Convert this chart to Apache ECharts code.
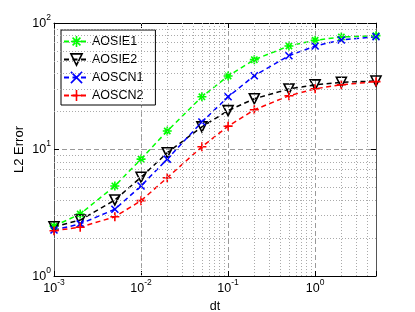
<!DOCTYPE html>
<html><head><meta charset="utf-8">
<script src="https://cdn.jsdelivr.net/npm/echarts@6/dist/echarts.min.js"></script>
<style>html,body{margin:0;padding:0;background:#fff}#c{width:415px;height:312px}</style>
</head><body><div id="c"></div>
<script>
const dt = [0.001, 0.002, 0.005, 0.01, 0.02, 0.05, 0.1, 0.2, 0.5, 1, 2, 5];
const AOSIE1 = [2.48, 3.09, 5.15, 8.4, 14.0, 26.1, 38.1, 51.3, 65.8, 73, 77.5, 79.4];
const AOSIE2 = [2.45, 2.77, 3.99, 6.03, 9.43, 15.1, 20.3, 25.2, 30.1, 32.4, 34.0, 34.8];
const AOSCN1 = [2.31, 2.58, 3.37, 5.15, 8.4, 16.5, 26.1, 38.3, 55.1, 65.8, 73.4, 78.0];
const AOSCN2 = [2.28, 2.43, 2.94, 3.94, 5.98, 10.5, 15.3, 20.6, 26.6, 30.2, 32.5, 34.4];
const seriesNames = ['AOSIE1', 'AOSIE2', 'AOSCN1', 'AOSCN2'];
const xMinor = [];
[0.001, 0.01, 0.1, 1].forEach(d => { for (let k = 2; k <= 9; k++) { const v = k * d; if (v < 5) xMinor.push(v); } });
const yMinor = [];
[1, 10].forEach(d => { for (let k = 2; k <= 9; k++) yMinor.push(k * d); });

const FONT = 'Liberation Sans';
function pow10Label(v) {
  const e = Math.log10(v);
  const r = Math.round(e);
  if (Math.abs(e - r) > 1e-6) return '';
  return '{b|10}{s|' + r + '}';
}
const rich = {
  b: { fontSize: 12.5, fontFamily: FONT, color: '#000', lineHeight: 14, verticalAlign: 'bottom' },
  s: { fontSize: 8.5, fontFamily: FONT, color: '#000', lineHeight: 10, verticalAlign: 'bottom', padding: [0, 0, 8, 0] }
};
const dash = [5, 3.5];
const sym = {
  star: 'path://M5,0L5,10M0,5L10,5M1.5,1.5L8.5,8.5M8.5,1.5L1.5,8.5',
  tri: 'path://M0,0L10,0L5,9Z',
  x: 'path://M0,0L10,10M10,0L0,10',
  plus: 'path://M5,0L5,10M0,5L10,5'
};
function mkSeries(name, vals, color, symbol, size, fill) {
  return {
    name, type: 'line', data: dt.map((x, i) => [x, vals[i]]),
    symbol, symbolSize: size, z: 3,
    lineStyle: { color, width: 1.5, type: dash },
    itemStyle: { color: fill, borderColor: color, borderWidth: 1.6 }
  };
}
const chart = echarts.init(document.getElementById('c'), null, { renderer: 'canvas' });
const axisLine = { show: true, lineStyle: { color: '#000', width: 1 } };
const tick = { show: true, inside: true, length: 5, lineStyle: { color: '#000' } };
chart.setOption({
  animation: false,
  backgroundColor: '#fff',
  textStyle: { fontFamily: FONT },
  grid: { left: 54, right: 39, top: 23, bottom: 36, containLabel: false, outerBoundsMode: 'none' },
  legend: {
    left: 61, top: 30, orient: 'vertical',
    data: seriesNames,
    itemWidth: 25, itemHeight: 14, itemGap: 5,
    padding: [5, 12, 3, 2],
    borderColor: '#000', borderWidth: 1, backgroundColor: '#fff',
    textStyle: { fontSize: 12.5, fontFamily: FONT, color: '#000', padding: [0, 0, 0, -2] },
    itemStyle: { borderWidth: 1.6 }
  },
  xAxis: [{
    type: 'log', logBase: 10, min: 0.001, max: 5, interval: 1,
    position: 'bottom', name: 'dt', nameLocation: 'middle', nameGap: 22,
    nameTextStyle: { fontSize: 12.5, fontFamily: FONT, color: '#000' },
    axisLine, axisTick: tick,
    axisLabel: { formatter: pow10Label, rich, margin: 5, showMaxLabel: true },
    splitLine: { show: true, lineStyle: { color: '#999', type: [5, 3], width: 1 } }
  }, {
    type: 'log', logBase: 10, min: 0.001, max: 5, interval: 1, position: 'top',
    axisLine, axisTick: tick, axisLabel: { show: false }, splitLine: { show: false }
  }],
  yAxis: [{
    type: 'log', logBase: 10, min: 1, max: 100, interval: 1,
    position: 'left', name: 'L2 Error', nameLocation: 'middle', nameGap: 28, nameMoveOverlap: false,
    nameTextStyle: { fontSize: 13, fontFamily: FONT, color: '#000' },
    axisLine: { show: true, lineStyle: { color: '#555' } }, axisTick: tick,
    axisLabel: { formatter: pow10Label, rich, margin: 3 },
    splitLine: { show: true, lineStyle: { color: '#999', type: [5, 3], width: 1 } }
  }, {
    type: 'log', logBase: 10, min: 1, max: 100, interval: 1, position: 'right',
    axisLine: { show: true, lineStyle: { color: '#555' } }, axisTick: tick, axisLabel: { show: false }, splitLine: { show: false }
  }],
  series: [
    {
      name: 'minor', type: 'line', data: [], silent: true, z: 1,
      markLine: {
        silent: true, symbol: 'none', animation: false,
        label: { show: false },
        lineStyle: { color: '#aaa', type: [1, 2], width: 1 },
        data: xMinor.map(v => ({ xAxis: v })).concat(yMinor.map(v => ({ yAxis: v })))
      }
    },
    mkSeries('AOSIE1', AOSIE1, '#00ff00', sym.star, 9, '#00ff00'),
    mkSeries('AOSIE2', AOSIE2, '#000000', sym.tri, 10, 'rgba(255,255,255,0)'),
    mkSeries('AOSCN1', AOSCN1, '#0000ff', sym.x, 7, '#0000ff'),
    mkSeries('AOSCN2', AOSCN2, '#ff0000', sym.plus, 9, '#ff0000')
  ]
});
</script></body></html>
